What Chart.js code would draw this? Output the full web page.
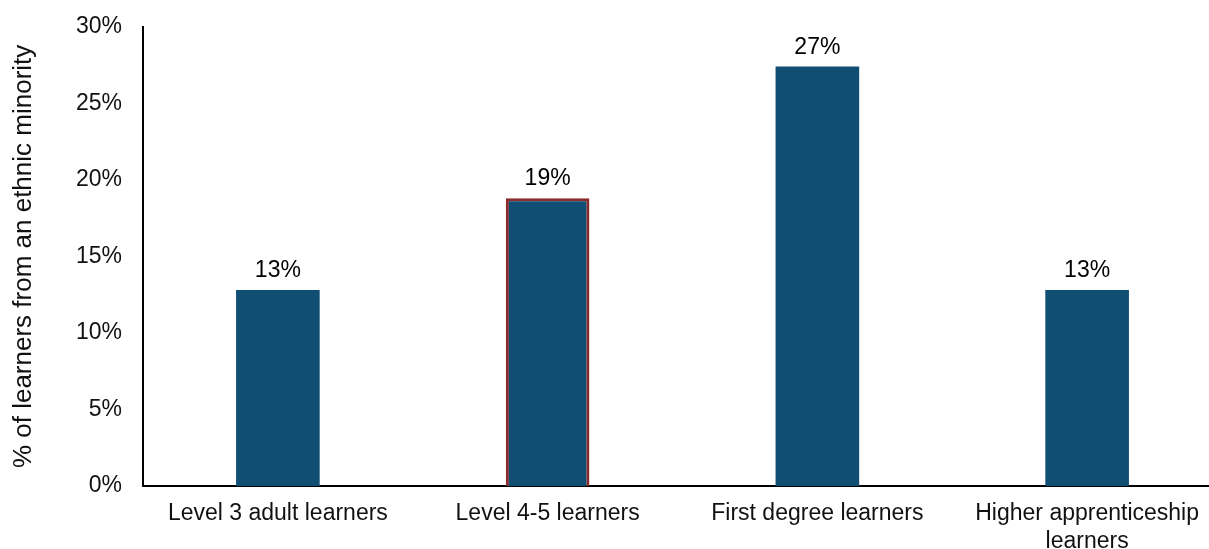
<!DOCTYPE html>
<html>
<head>
<meta charset="utf-8">
<script src="https://cdn.jsdelivr.net/npm/chart.js@4.4.0/dist/chart.umd.min.js"></script>
<style>
  html, body { margin: 0; padding: 0; background: #fff; overflow: hidden; }
  #wrap { width: 1225px; height: 549px; }
</style>
</head>
<body>
<div id="wrap"><canvas id="c"></canvas></div>
<script>
const categories = [
  "Level 3 adult learners",
  ["Level 4-5 learners"],
  "First degree learners",
  ["Higher apprenticeship", "learners"]
];
const values = [12.8, 18.8, 27.4, 12.8];
const valueLabels = ["13%", "19%", "27%", "13%"];
const yTicks = [0, 5, 10, 15, 20, 25, 30];

const barColor = "#114e73";
const highlight = "#8b2a2a";
const font = "'Liberation Sans', Arial, sans-serif";

// draws the % on top of each bar
const topLabels = {
  id: "topLabels",
  afterDatasetsDraw(chart) {
    const ctx = chart.ctx;
    const meta = chart.getDatasetMeta(0);
    ctx.save();
    ctx.font = "23px " + font;
    ctx.fillStyle = "#000";
    ctx.textAlign = "center";
    ctx.textBaseline = "alphabetic";
    meta.data.forEach((bar, i) => {
      ctx.fillText(valueLabels[i], bar.x, bar.y - 13);
    });
    ctx.restore();
  }
};

new Chart(document.getElementById("c"), {
  type: "bar",
  data: {
    labels: categories,
    datasets: [{
      data: values,
      backgroundColor: barColor,
      borderColor: values.map((v, i) => i == 1 ? highlight : barColor),
      borderWidth: values.map((v, i) => i == 1 ? 3 : 0),
      barPercentage: 0.31,
      categoryPercentage: 1
    }]
  },
  options: {
    responsive: true,
    maintainAspectRatio: false,
    animation: false,
    layout: { padding: { top: 18, right: 3, bottom: 0, left: 0 } },
    plugins: { legend: { display: false }, tooltip: { enabled: false } },
    scales: {
      x: {
        afterFit: (axis) => { axis.height = 63; },
        grid: { display: false },
        border: { display: true, color: "#000", width: 2 },
        ticks: { color: "#111", font: { family: font, size: 23 }, padding: 6, maxRotation: 0, autoSkip: false }
      },
      y: {
        min: 0,
        max: 30,
        afterBuildTicks: (axis) => { axis.ticks = yTicks.map(v => ({ value: v })); },
        afterFit: (axis) => { axis.width = 143; },
        grid: { display: false },
        border: { display: true, color: "#000", width: 2 },
        ticks: {
          color: "#111",
          font: { family: font, size: 23 },
          padding: 13,
          callback: (v) => v + "%"
        },
        title: {
          display: true,
          text: "% of learners from an ethnic minority",
          color: "#111",
          font: { family: font, size: 26 },
          padding: { top: 8, bottom: 0 }
        }
      }
    }
  },
  plugins: [topLabels]
});
</script>
</body>
</html>
